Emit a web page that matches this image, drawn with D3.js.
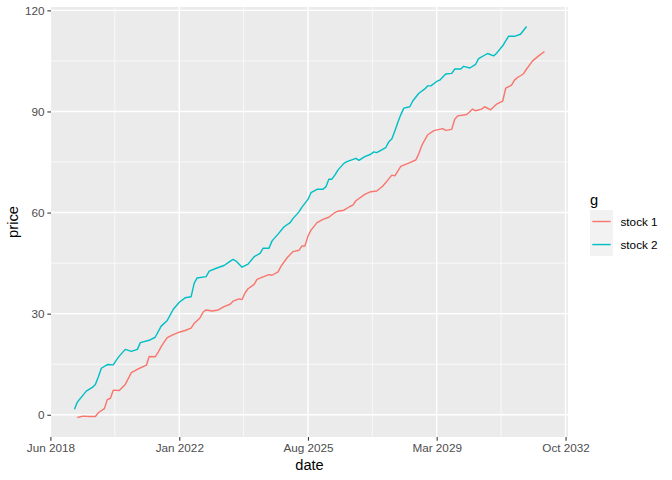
<!DOCTYPE html>
<html>
<head>
<meta charset="utf-8">
<script src="https://cdn.jsdelivr.net/npm/d3@7"></script>
<style>
  html, body { margin: 0; padding: 0; background: #fff; }
  svg { display: block; font-family: "Liberation Sans", Arial, Helvetica, sans-serif; }
</style>
</head>
<body>
<svg id="chart" width="672" height="480"></svg>
<script>
// ---- data (month offsets from Jan 2019) ----
const startMonth = "2019-01-01";
const seriesNames = ["stock 1", "stock 2"];
const seriesColors = ["#F8766D", "#00BFC4"];

const stock1Months = [2,4,6,8,9,11,12,13,14,16,18,20,22,25,26,28,29,30,31,32,34,36,38,40,41,43,44,45,47,49,51,53,54,56,57,58,59,61,62,64,66,67,69,70,72,74,76,77,78,79,80,82,84,86,88,89,91,93,94,95,98,100,102,104,105,107,108,110,113,115,116,117,118,119,121,124,125,127,128,129,132,133,134,135,137,138,140,142,144,145,147,148,149,150,151,152,154,156,158];
const stock1Values = [-0.8,-0.4,-0.5,-0.5,0.6,1.8,4.5,4.9,7.3,7.2,9.0,12.5,13.5,14.7,17.3,17.2,18.6,20.2,21.6,22.9,23.8,24.5,25.0,25.7,27.1,28.8,30.5,31.1,30.8,31.1,32.1,32.8,33.7,34.4,34.2,36.2,37.4,38.7,40.2,40.9,41.6,41.4,42.4,44.1,46.6,48.4,48.8,50.1,50.1,53.0,54.8,57.0,58.0,58.6,60.0,60.4,60.7,61.8,62.2,63.5,65.4,66.2,66.4,67.9,68.9,71.1,70.9,73.7,74.8,75.6,77.5,79.9,81.6,83.1,84.3,84.9,84.4,84.7,87.7,88.7,89.1,89.9,90.7,90.2,90.7,91.4,90.5,92.2,93.1,96.9,97.8,99.3,100.1,100.6,101.2,102.6,105.0,106.5,107.8];

const stock2Months = [1,2,4,5,7,8,9,10,12,14,15,16,18,20,22,23,26,28,30,32,34,36,38,40,41,42,45,46,49,51,53,54,55,57,59,61,63,64,66,67,69,71,73,74,76,77,79,80,82,84,85,86,87,88,89,91,92,95,96,98,100,101,102,105,106,107,108,109,110,111,113,114,116,118,119,120,122,123,125,127,128,130,131,133,135,136,139,141,142,144,146,148,150,152];
const stock2Values = [1.6,3.7,5.9,7.0,8.1,9.0,11.2,13.8,14.9,14.8,16.2,17.4,19.4,18.8,19.4,21.4,22.1,23.0,26.3,28.0,31.3,33.4,34.7,35.0,39.0,40.6,41.0,42.6,43.7,44.3,45.5,46.1,45.6,43.8,44.7,46.9,47.9,49.4,49.4,51.6,53.6,55.8,57.0,58.2,60.2,61.6,63.9,65.9,66.9,66.9,67.7,69.9,69.9,71.1,72.6,74.6,75.1,76.1,75.5,76.6,77.3,78.0,77.8,79.3,81.0,81.8,84.2,86.8,89.0,91.0,91.4,93.1,95.4,96.7,97.6,97.6,98.9,99.3,101.1,101.3,102.6,102.6,103.4,102.9,104.0,105.7,107.2,106.5,107.3,109.5,112.3,112.3,112.9,115.2];

const xTickDates = ["2018-06-01", "2022-01-01", "2025-08-01", "2029-03-01", "2032-10-01"];
const yTicks = [0, 30, 60, 90, 120];
const yMinor = [15, 45, 75, 105];

// ---- build ----
const parse = d3.utcParse("%Y-%m-%d");
const start = parse(startMonth);
function build(months, values) {
  return months.map((m, i) => ({ date: d3.utcMonth.offset(start, m), value: values[i] }));
}
const series = [build(stock1Months, stock1Values), build(stock2Months, stock2Values)];
const all = series.flat();

const panel = { left: 51, right: 568, top: 7, bottom: 437 };

const xExt = d3.extent(all, d => +d.date);
const xPad = (xExt[1] - xExt[0]) * 0.05;
const x = d3.scaleUtc()
  .domain([new Date(xExt[0] - xPad), new Date(xExt[1] + xPad)])
  .range([panel.left, panel.right]);

const yExt = d3.extent(all, d => d.value);
const yPad = (yExt[1] - yExt[0]) * 0.05;
const y = d3.scaleLinear()
  .domain([yExt[0] - yPad, yExt[1] + yPad])
  .range([panel.bottom, panel.top]);

const svg = d3.select("#chart");
svg.append("rect").attr("width", 672).attr("height", 480).attr("fill", "#fff");

// panel background
svg.append("rect")
  .attr("x", panel.left).attr("y", panel.top)
  .attr("width", panel.right - panel.left).attr("height", panel.bottom - panel.top)
  .attr("fill", "#EBEBEB");

const xTicks = xTickDates.map(parse);
const xMinor = d3.pairs(xTicks).map(([a, b]) => new Date((+a + +b) / 2));

const grid = svg.append("g");
// minor grid
grid.selectAll("line.ym").data(yMinor).join("line")
  .attr("x1", panel.left).attr("x2", panel.right)
  .attr("y1", d => y(d)).attr("y2", d => y(d))
  .attr("stroke", "#fff").attr("stroke-width", 0.71);
grid.selectAll("line.xm").data(xMinor).join("line")
  .attr("y1", panel.top).attr("y2", panel.bottom)
  .attr("x1", d => x(d)).attr("x2", d => x(d))
  .attr("stroke", "#fff").attr("stroke-width", 0.71);
// major grid
grid.selectAll("line.yM").data(yTicks).join("line")
  .attr("x1", panel.left).attr("x2", panel.right)
  .attr("y1", d => y(d)).attr("y2", d => y(d))
  .attr("stroke", "#fff").attr("stroke-width", 1.42);
grid.selectAll("line.xM").data(xTicks.filter(d => x(d) >= panel.left - 1 && x(d) <= panel.right + 1)).join("line")
  .attr("y1", panel.top).attr("y2", panel.bottom)
  .attr("x1", d => x(d)).attr("x2", d => x(d))
  .attr("stroke", "#fff").attr("stroke-width", 1.42);

// lines
const line = d3.line().x(d => x(d.date)).y(d => y(d.value));
svg.append("g").selectAll("path").data(series).join("path")
  .attr("d", line)
  .attr("fill", "none")
  .attr("stroke", (d, i) => seriesColors[i])
  .attr("stroke-width", 1.42)
  .attr("stroke-linejoin", "round");

// axes
const fmt = d3.utcFormat("%b %Y");
const xAxis = d3.axisBottom(x).tickValues(xTicks).tickFormat(fmt).tickSize(3.67).tickPadding(2.9);
const gx = svg.append("g").attr("transform", `translate(0,${panel.bottom})`).call(xAxis);
const yAxis = d3.axisLeft(y).tickValues(yTicks).tickSize(3.67).tickPadding(2.9);
const gy = svg.append("g").attr("transform", `translate(${panel.left},0)`).call(yAxis);
[gx, gy].forEach(g => {
  g.select(".domain").remove();
  g.selectAll(".tick line").attr("stroke", "#333333").attr("stroke-width", 1.07);
  g.selectAll(".tick text").attr("fill", "#4D4D4D").style("font-size", "11.73px")
    .style("font-family", '"Liberation Sans", Arial, Helvetica, sans-serif');
});

// axis titles
svg.append("text").attr("x", (panel.left + panel.right) / 2).attr("y", 470)
  .attr("text-anchor", "middle").style("font-size", "14.67px").attr("fill", "#000").text("date");
svg.append("text")
  .attr("transform", `translate(18,${(panel.top + panel.bottom) / 2}) rotate(-90)`)
  .attr("text-anchor", "middle").style("font-size", "14.67px").attr("fill", "#000").text("price");

// legend
const lg = svg.append("g").attr("transform", "translate(590,0)");
lg.append("text").attr("x", 0).attr("y", 205).style("font-size", "14.67px").attr("fill", "#000").text("g");
seriesNames.forEach((name, i) => {
  const top = 210 + i * 23.04;
  lg.append("rect").attr("x", 0).attr("y", top).attr("width", 23.04).attr("height", 23.04).attr("fill", "#F2F2F2");
  lg.append("line").attr("x1", 2.3).attr("x2", 20.7).attr("y1", top + 11.52).attr("y2", top + 11.52)
    .attr("stroke", seriesColors[i]).attr("stroke-width", 1.42);
  lg.append("text").attr("x", 30.5).attr("y", top + 11.52).attr("dy", "0.35em")
    .style("font-size", "11.73px").attr("fill", "#000").text(name);
});
</script>
</body>
</html>
